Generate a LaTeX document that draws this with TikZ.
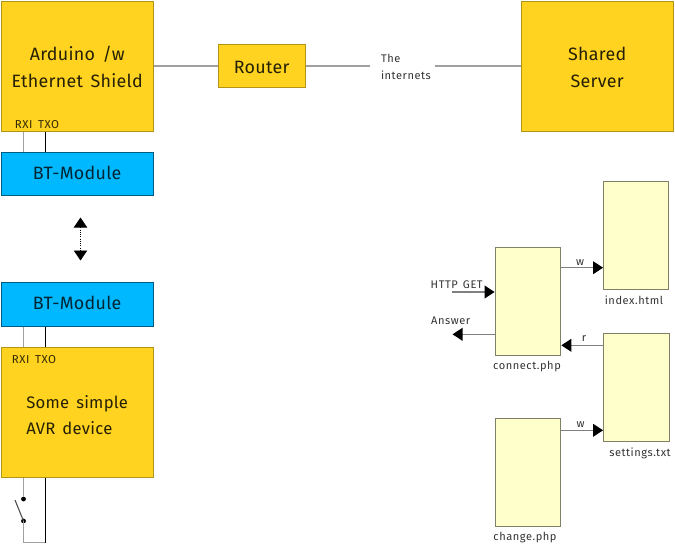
\documentclass[tikz,border=0pt]{standalone}
\usepackage{fontspec}
\setmainfont[LetterSpace=1.5,WordSpace=1.5]{Fira Sans}
\newfontfamily\smallface[LetterSpace=5,WordSpace=1.5]{Fira Sans}
\usetikzlibrary{arrows.meta}
\definecolor{gold}{HTML}{FFD320}
\definecolor{btblue}{HTML}{00B8FF}
\definecolor{pale}{HTML}{FFFFCC}
\definecolor{wire}{HTML}{A0A0A0}
\tikzset{
  x=0.75pt,y=-0.75pt,
  gbox/.style={draw=#1,line width=0.9pt,inner sep=0pt,align=center,text=black!85!gold},
  hw/.style={gbox={black!30!gold},fill=gold,font=\fontsize{13.4}{20.2}\selectfont},
  bt/.style={gbox={black!50!btblue},fill=btblue,font=\fontsize{13.4}{20.2}\selectfont,text=black!80!btblue},
  sw/.style={gbox={black!50!pale},fill=pale},
  lbl/.style={inner sep=0pt,font=\smallface\fontsize{8.3}{12.8}\selectfont,text=black!80},
  pin/.style={inner sep=0pt,font=\smallface\fontsize{8.6}{10}\selectfont,text=black!80!gold},
  gw/.style={draw=wire,line width=1.2pt},
  kw/.style={draw=black,line width=0.8pt},
  flow/.style={draw=black!50,line width=1.1pt,-{Triangle[length=7.5pt,width=9.5pt,color=black,fill=black]}},
  dotc/.style={circle,fill=black,inner sep=0pt,minimum size=3.6pt}
}
\newcommand{\bx}[7]{%
  \node[#6,minimum width=#4*0.75pt-#2*0.75pt,minimum height=#5*0.75pt-#3*0.75pt]
    (#1) at ({(#2+#4)/2-0.3},{(#3+#5)/2-0.2}) {#7};}
\newcommand{\dropbox}[2]{\raisebox{-#1}[\height][\depth]{#2}}
\begin{document}
\begin{tikzpicture}
\useasboundingbox (0,0) rectangle (675,544);
\bx{ard}{1.5}{1.5}{153.5}{131.5}{hw}{\dropbox{0.75pt}{\parbox{110pt}{\centering Arduino /w\\Ethernet Shield}}}
\bx{router}{218.5}{44.5}{305.5}{87.5}{hw}{\dropbox{1.5pt}{Router}}
\bx{server}{521.5}{1.5}{673.5}{131.5}{hw}{\dropbox{0.75pt}{\parbox{60pt}{\centering Shared\\Server}}}
\bx{bta}{1.5}{153}{153.5}{195.5}{bt}{\dropbox{-0.75pt}{BT-Module}}
\bx{btb}{1.5}{283}{153.5}{326.5}{bt}{\dropbox{-1.5pt}{BT-Module}}
\bx{avr}{1.5}{348}{153.5}{477.5}{hw}{\dropbox{2.6pt}{\fontsize{12.5}{19.6}\selectfont\begin{tabular}{@{}l@{}}Some simple\\AVR device\end{tabular}}}
\bx{index}{604}{181.5}{669}{289.5}{sw}{}
\bx{connect}{495.5}{248}{561}{355.5}{sw}{}
\bx{settings}{604}{333.5}{669.5}{441.5}{sw}{}
\bx{change}{495.5}{418.5}{561}{526.5}{sw}{}
\node[lbl,fill=white,minimum width=48.75pt,minimum height=30pt,text width=48.75pt,align=left] (net) at (402.5,67) {\hspace*{8.25pt}The\\\hspace*{8.25pt}internets};
% network
\draw[gw] (ard.east |- router) -- (router);
\draw[gw] (router) -- (net.west |- router);
\draw[gw] (net.east |- router) -- (server.west |- router);
% pin labels
\node[pin] (rxa) at (37,125) {RXI TXO};
\node[pin] (rxb) at (34,360) {RXI TXO};
% wires
\draw[gw] (23.5,0 |- ard.south) -- (23.5,0 |- bta.north);
\draw[kw] (45.5,0 |- ard.south) -- (45.5,0 |- bta.north);
\draw[gw] (23.5,0 |- btb.south) -- (23.5,0 |- avr.north);
\draw[kw] (45.5,0 |- btb.south) -- (45.5,0 |- avr.north);
% radio link
\coordinate (linka) at (80.5,217.5);
\coordinate (linkb) at (80.5,260.5);
\draw[densely dotted,line width=0.7pt,{Triangle[length=7.5pt,width=10pt]}-{Triangle[length=7.5pt,width=10pt]}] (linka) -- (linkb);
% switch
\node[dotc] (sa) at (23.5,499) {};
\node[dotc] (sb) at (23.5,521) {};
\coordinate (blade) at (15,500);
\coordinate (bl) at (23.5,542.5);
\coordinate (br) at (45.5,542.5);
\draw[gw] (23.5,0 |- avr.south) -- (sa);
\draw[gw] (sb.center) -- (bl) -- (br);
\draw[kw] (br) -- (45.5,0 |- avr.south);
\draw[draw=black!70,line width=0.8pt] (blade) -- (sb.center);
% software
\draw[flow] (connect.east |- 0,267.7) -- (index.west |- 0,267.7);
\draw[flow] (settings.west |- 0,345.3) -- (connect.east |- 0,345.3);
\draw[flow] (change.east |- 0,430.3) -- (settings.west |- 0,430.3);
\coordinate (get) at (452,292);
\coordinate (ans) at (452.5,334.3);
\draw[flow] (get) -- (connect.west |- get);
\draw[flow] (connect.west |- ans) -- (ans);
\node[lbl] (l1) at (456.7,285) {HTTP GET};
\node[lbl] (l2) at (450.7,321) {Answer};
\node[lbl] (l3) at (580,262.5) {w};
\node[lbl] (l4) at (584,338.5) {r};
\node[lbl] (l5) at (580.7,425) {w};
\node[lbl] (l6) at (634,300.3) {index.html};
\node[lbl] (l7) at (527,366.7) {connect.php};
\node[lbl] (l8) at (640,453) {settings.txt};
\node[lbl] (l9) at (525,537.7) {change.php};
\end{tikzpicture}
\end{document}
